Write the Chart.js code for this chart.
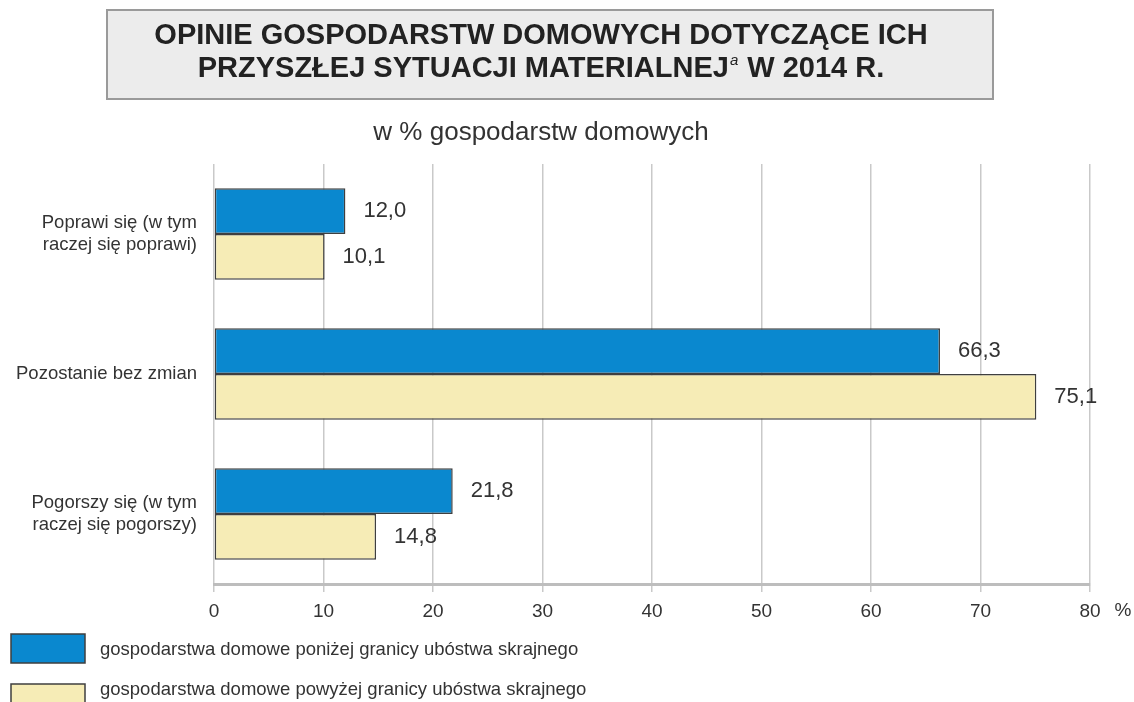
<!DOCTYPE html>
<html lang="pl">
<head>
<meta charset="utf-8">
<title>Opinie gospodarstw domowych 2014</title>
<script src="https://cdn.jsdelivr.net/npm/chart.js@4.4.1/dist/chart.umd.min.js"></script>
<style>
  html, body { margin: 0; padding: 0; background: #fff; }
  #wrap { position: relative; width: 1134px; height: 702px; }
</style>
</head>
<body>
<div id="wrap"><canvas id="chart" width="1134" height="702"></canvas></div>
<script>
// dane
const kategorie = [
    ['Poprawi się (w tym', 'raczej się poprawi)'],
    'Pozostanie bez zmian',
    ['Pogorszy się (w tym', 'raczej się pogorszy)']
];
const ponizejGranicy = [12.0, 66.3, 21.8];
const powyzejGranicy = [10.1, 75.1, 14.8];
const nazwySerii = [
    'gospodarstwa domowe poniżej granicy ubóstwa skrajnego',
    'gospodarstwa domowe powyżej granicy ubóstwa skrajnego'
];
const tytulLinia1 = 'OPINIE GOSPODARSTW DOMOWYCH DOTYCZĄCE ICH';
const tytulLinia2 = ['PRZYSZŁEJ SYTUACJI MATERIALNEJ', 'a', ' W 2014 R.'];
const podtytul = 'w % gospodarstw domowych';

const NIEBIESKI = '#0a88cf';
const ZOLTY = '#f6ecb6';
const RAMKA = '#3f3f3f';
const FONT = '"Liberation Sans", Arial, sans-serif';

// rysuje tytuł w szarej ramce i podtytuł
const tytulPlugin = {
    id: 'tytul',
    beforeDraw(chart) {
        const ctx = chart.ctx;
        ctx.save();
        ctx.fillStyle = '#ececec';
        ctx.fillRect(107, 10, 886, 89);
        ctx.strokeStyle = '#9a9a9a';
        ctx.lineWidth = 2;
        ctx.strokeRect(107, 10, 886, 89);

        ctx.fillStyle = '#222';
        ctx.textBaseline = 'middle';
        ctx.textAlign = 'center';
        ctx.font = 'bold 29px ' + FONT;
        ctx.fillText(tytulLinia1, 541, 36);

        // druga linia z indeksem górnym "a"
        ctx.textAlign = 'left';
        const fGlowny = 'bold 29px ' + FONT;
        const fIndeks = 'italic 15px ' + FONT;
        ctx.font = fGlowny;
        const w1 = ctx.measureText(tytulLinia2[0]).width;
        const w3 = ctx.measureText(tytulLinia2[2]).width;
        ctx.font = fIndeks;
        const w2 = ctx.measureText(tytulLinia2[1]).width + 2;
        let x = 541 - (w1 + w2 + w3) / 2;
        ctx.font = fGlowny;
        ctx.fillText(tytulLinia2[0], x, 69);
        x += w1;
        ctx.font = fIndeks;
        ctx.fillText(tytulLinia2[1], x + 1, 61);
        x += w2;
        ctx.font = fGlowny;
        ctx.fillText(tytulLinia2[2], x, 69);

        ctx.textAlign = 'center';
        ctx.fillStyle = '#333';
        ctx.font = '26px ' + FONT;
        ctx.fillText(podtytul, 541, 133);
        ctx.restore();
    }
};

// wartości przy słupkach, znak % i legenda
const opisyPlugin = {
    id: 'opisy',
    afterDatasetsDraw(chart) {
        const ctx = chart.ctx;
        ctx.save();
        ctx.fillStyle = '#333';
        ctx.font = '22px ' + FONT;
        ctx.textBaseline = 'middle';
        ctx.textAlign = 'left';
        chart.data.datasets.forEach((ds, i) => {
            chart.getDatasetMeta(i).data.forEach((bar, j) => {
                const txt = ds.data[j].toFixed(1).replace('.', ',');
                ctx.fillText(txt, bar.x + 18, bar.y);
            });
        });
        ctx.restore();
    },
    afterDraw(chart) {
        const ctx = chart.ctx;
        const xs = chart.scales.x;
        ctx.save();
        ctx.fillStyle = '#333';
        ctx.textBaseline = 'middle';
        ctx.textAlign = 'center';
        ctx.font = '19px ' + FONT;
        ctx.fillText('%', xs.right + 33, 611);

        // legenda
        const kolory = [NIEBIESKI, ZOLTY];
        const pozY = [634, 684];
        const tekstY = [650, 690];
        ctx.textAlign = 'left';
        ctx.font = '18.5px ' + FONT;
        nazwySerii.forEach((nazwa, i) => {
            ctx.fillStyle = kolory[i];
            ctx.fillRect(11, pozY[i], 74, 29);
            ctx.strokeStyle = RAMKA;
            ctx.lineWidth = 1.5;
            ctx.strokeRect(11, pozY[i], 74, 29);
            ctx.fillStyle = '#333';
            ctx.fillText(nazwa, 100, tekstY[i]);
        });
        ctx.restore();
    }
};

document.addEventListener('DOMContentLoaded', () => {
    const ctx = document.getElementById('chart').getContext('2d');
    new Chart(ctx, {
        type: 'bar',
        data: {
            labels: kategorie,
            datasets: [{
                label: nazwySerii[0],
                data: ponizejGranicy,
                backgroundColor: NIEBIESKI,
                borderColor: RAMKA,
                borderWidth: 1.5,
                borderSkipped: false
            }, {
                label: nazwySerii[1],
                data: powyzejGranicy,
                backgroundColor: ZOLTY,
                borderColor: RAMKA,
                borderWidth: 1.5,
                borderSkipped: false
            }]
        },
        options: {
            indexAxis: 'y',
            responsive: false,
            animation: false,
            datasets: {
                bar: { categoryPercentage: 0.655, barPercentage: 1.0 }
            },
            layout: { padding: { top: 164, right: 44, bottom: 80, left: 0 } },
            plugins: {
                legend: { display: false },
                tooltip: { enabled: false },
                title: { display: false }
            },
            scales: {
                x: {
                    min: 0,
                    max: 80,
                    ticks: {
                        stepSize: 10,
                        color: '#333',
                        padding: 8,
                        font: { family: FONT, size: 19 }
                    },
                    grid: {
                        color: '#c9c9c9',
                        lineWidth: 1.5,
                        tickLength: 8,
                        tickColor: '#c9c9c9'
                    },
                    border: { display: true, color: '#bdbdbd', width: 3 },
                    afterFit: scale => { scale.height = 38; }
                },
                y: {
                    ticks: {
                        color: '#333',
                        padding: 17,
                        font: { family: FONT, size: 18.5, lineHeight: 1.2 }
                    },
                    grid: { display: false, drawTicks: false },
                    border: { display: false },
                    afterFit: scale => { scale.width = 214; }
                }
            }
        },
        plugins: [tytulPlugin, opisyPlugin]
    });
});
</script>
</body>
</html>
